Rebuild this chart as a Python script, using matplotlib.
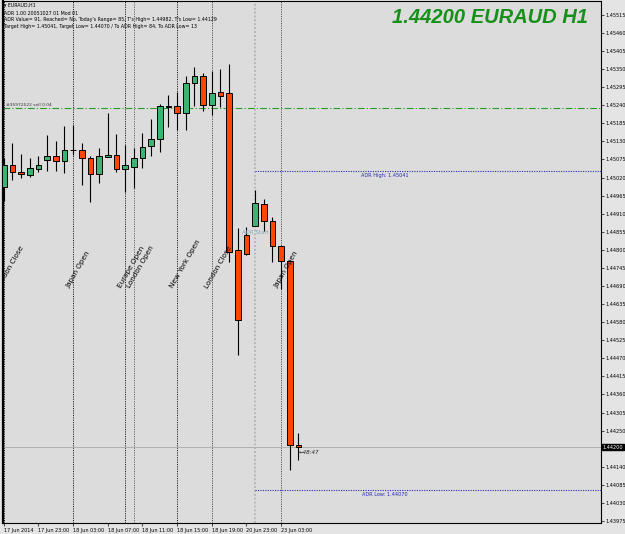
import numpy as np
import matplotlib
matplotlib.use("Agg")
import matplotlib.pyplot as plt

# EURAUD H1 candles, oldest first
opens = [1.44992, 1.45058, 1.45037, 1.45028, 1.45047, 1.45072, 1.45086, 1.45069, 1.45103, 1.45104,
         1.45078, 1.45030, 1.45083, 1.45090, 1.45047, 1.45053, 1.45080, 1.45116, 1.45136, 1.45234,
         1.45238, 1.45217, 1.45309, 1.45330, 1.45242, 1.45279, 1.45276, 1.44799, 1.44845, 1.44873,
         1.44939, 1.44888, 1.44812, 1.44767, 1.44207]
highs = [1.45078, 1.45126, 1.45091, 1.45078, 1.45085, 1.45149, 1.45131, 1.45177, 1.45180, 1.45124,
         1.45085, 1.45109, 1.45215, 1.45152, 1.45119, 1.45109, 1.45154, 1.45198, 1.45243, 1.45271,
         1.45281, 1.45330, 1.45357, 1.45337, 1.45344, 1.45350, 1.45364, 1.44865, 1.44870, 1.44982,
         1.44954, 1.44899, 1.44815, 1.44770, 1.44244]
lows = [1.44949, 1.45012, 1.45020, 1.45022, 1.45037, 1.45040, 1.45040, 1.45033, 1.45090, 1.44997,
        1.44946, 1.45002, 1.45082, 1.45037, 1.44977, 1.44987, 1.45048, 1.45085, 1.45098, 1.45174,
        1.45166, 1.45166, 1.45238, 1.45223, 1.45210, 1.45235, 1.44762, 1.44480, 1.44784, 1.44873,
        1.44857, 1.44764, 1.44680, 1.44129, 1.44161]
closes = [1.45058, 1.45036, 1.45030, 1.45048, 1.45058, 1.45086, 1.45071, 1.45103, 1.45103, 1.45080,
          1.45030, 1.45085, 1.45090, 1.45045, 1.45057, 1.45080, 1.45112, 1.45137, 1.45238, 1.45238,
          1.45217, 1.45309, 1.45330, 1.45242, 1.45278, 1.45268, 1.44794, 1.44586, 1.44787, 1.44941,
          1.44888, 1.44812, 1.44767, 1.44206, 1.44200]

time_label_bars = [0, 4, 8, 12, 16, 20, 24, 28, 32]
time_labels = ["17 Jun 2014", "17 Jun 23:00", "18 Jun 03:00", "18 Jun 07:00", "18 Jun 11:00",
               "18 Jun 15:00", "18 Jun 19:00", "20 Jun 23:00", "23 Jun 03:00"]

session_bars = [0, 8, 14, 15, 20, 24, 32]
session_names = ["London Close", "Japan Open", "Europe Open", "London Open",
                 "New York Open", "London Close", "Japan Open"]
session_colors = ["#222222", "#222222", "#222222", "#666666", "#222222", "#555555", "#555555"]

adr_start_bar = 29
adr_high = 1.45041
adr_low = 1.44070
order_price = 1.45230
order_label = "#35972522 sell 0.04"
current_price = 1.44200
countdown = "48:47"

header_lines = ["\u25BE EURAUD,H1",
                "ADR 1.00 20051027 01 Mod 01",
                "ADR Value= 91, Reached= No, Today's Range= 85, T's High= 1.44982, T's Low= 1.44129",
                "Target High= 1.45041, Target Low= 1.44070 / To ADR High= 84, To ADR Low= 13"]

price_ticks = np.round(np.arange(1.43975, 1.45516, 0.00055), 5)
price_ticks = [t for t in price_ticks if abs(t - current_price) > 0.0001]

W, H = 625, 534
fig = plt.figure(figsize=(W / 100, H / 100), dpi=100, facecolor="#E4E4E4")
ax = fig.add_axes([2.7 / W, 11 / H, 598.3 / W, 522 / H])
ax.set_facecolor("#DCDCDC")

n = len(opens)
x = np.arange(n)
o = np.array(opens)
c = np.array(closes)
up = c >= o

# session / ADR start verticals
for b, col in zip(session_bars, session_colors):
    ax.axvline(b, color=col, lw=0.7, ls=(0, (1.2, 1.2)), zorder=1)
ax.axvline(adr_start_bar, color="#B8B8B8", lw=1.4, ls=(0, (1, 1)), zorder=1)

# horizontal levels
ax.axhline(current_price, color="#B0B0B0", lw=0.7, zorder=1)
ax.axhline(order_price, color="#2A9A2A", lw=0.8, ls=(0, (6, 2, 1, 2)), zorder=1)
ax.hlines([adr_high, adr_low], adr_start_bar, 80, color="#2828B4", lw=0.8,
          ls=(0, (1, 1.2)), zorder=1)

# candles
ax.vlines(x, lows, highs, color="black", lw=0.8, zorder=2)
ax.bar(x, np.abs(c - o), bottom=np.minimum(o, c), width=0.66,
       color=np.where(up, "#3CB371", "#FF4500"), edgecolor="black", lw=0.7, zorder=3)

ax.set_xlim(-0.12, 68.9)
ax.set_ylim(1.43969, 1.45557)

# axes styling
for s in ax.spines.values():
    s.set_color("black")
    s.set_linewidth(0.8)
ax.spines["left"].set_linewidth(1.6)
ax.yaxis.tick_right()
ax.set_yticks(price_ticks)
ax.set_yticklabels([f"{t:.5f}" for t in price_ticks])
ax.tick_params(axis="y", labelsize=3.6, length=2, width=0.5, pad=1, colors="black")
ax.set_xticks(time_label_bars)
ax.set_xticklabels(time_labels, ha="left")
ax.tick_params(axis="x", labelsize=3.5, length=2, width=0.5, pad=1.5)

# session labels (the first one is cut by the left edge, as in the source)
for b, name in zip(session_bars, session_names):
    ax.annotate(name, xy=(b, 0.448), xycoords=("data", "axes fraction"),
                xytext=(-3, 0), textcoords="offset pixels", rotation=60,
                rotation_mode="anchor", ha="left", va="bottom", fontsize=5.2,
                color="black", annotation_clip=False, clip_on=True)
ax.annotate("ADR Start", xy=(adr_start_bar, 0.557), xycoords=("data", "axes fraction"),
            ha="center", va="center", fontsize=4, color="#86A8B4")

# level labels
ax.annotate(f"ADR High: {adr_high:.5f}", xy=(44, adr_high), xytext=(0, -2),
            textcoords="offset pixels", ha="center", va="top", fontsize=3.6, color="#2828B4")
ax.annotate(f"ADR Low: {adr_low:.5f}", xy=(44, adr_low), xytext=(0, -2),
            textcoords="offset pixels", ha="center", va="top", fontsize=3.6, color="#2828B4")
ax.annotate(order_label, xy=(0, order_price), xytext=(2, 1), textcoords="offset pixels",
            ha="left", va="bottom", fontsize=3.2, color="#333333")
ax.annotate("\u2190" + countdown, xy=(n - 1, current_price), xytext=(0, -5),
            textcoords="offset pixels", ha="left", va="center", fontsize=4,
            style="italic", color="#222222")

# current price box on the axis
ax.annotate(f"{current_price:.5f}", xy=(1, current_price), xycoords=("axes fraction", "data"),
            xytext=(2, 0), textcoords="offset pixels", ha="left", va="center",
            fontsize=3.6, color="white", annotation_clip=False,
            bbox=dict(boxstyle="square,pad=0.15", fc="black", ec="black"))

# big title
ax.text(0.978, 0.986, f"{current_price:.5f} EURAUD H1", transform=ax.transAxes,
        ha="right", va="top", fontsize=14.5, fontweight="bold", style="italic",
        family="Liberation Sans", color="#17901A")

# header info
for i, line in enumerate(header_lines):
    y = [5.7, 13.7, 19.9, 26.2][i]
    fig.text(4 / W, 1 - y / H, line, ha="left", va="center", fontsize=3.4, color="black")

fig.savefig("out.png", dpi=100, facecolor=fig.get_facecolor())
